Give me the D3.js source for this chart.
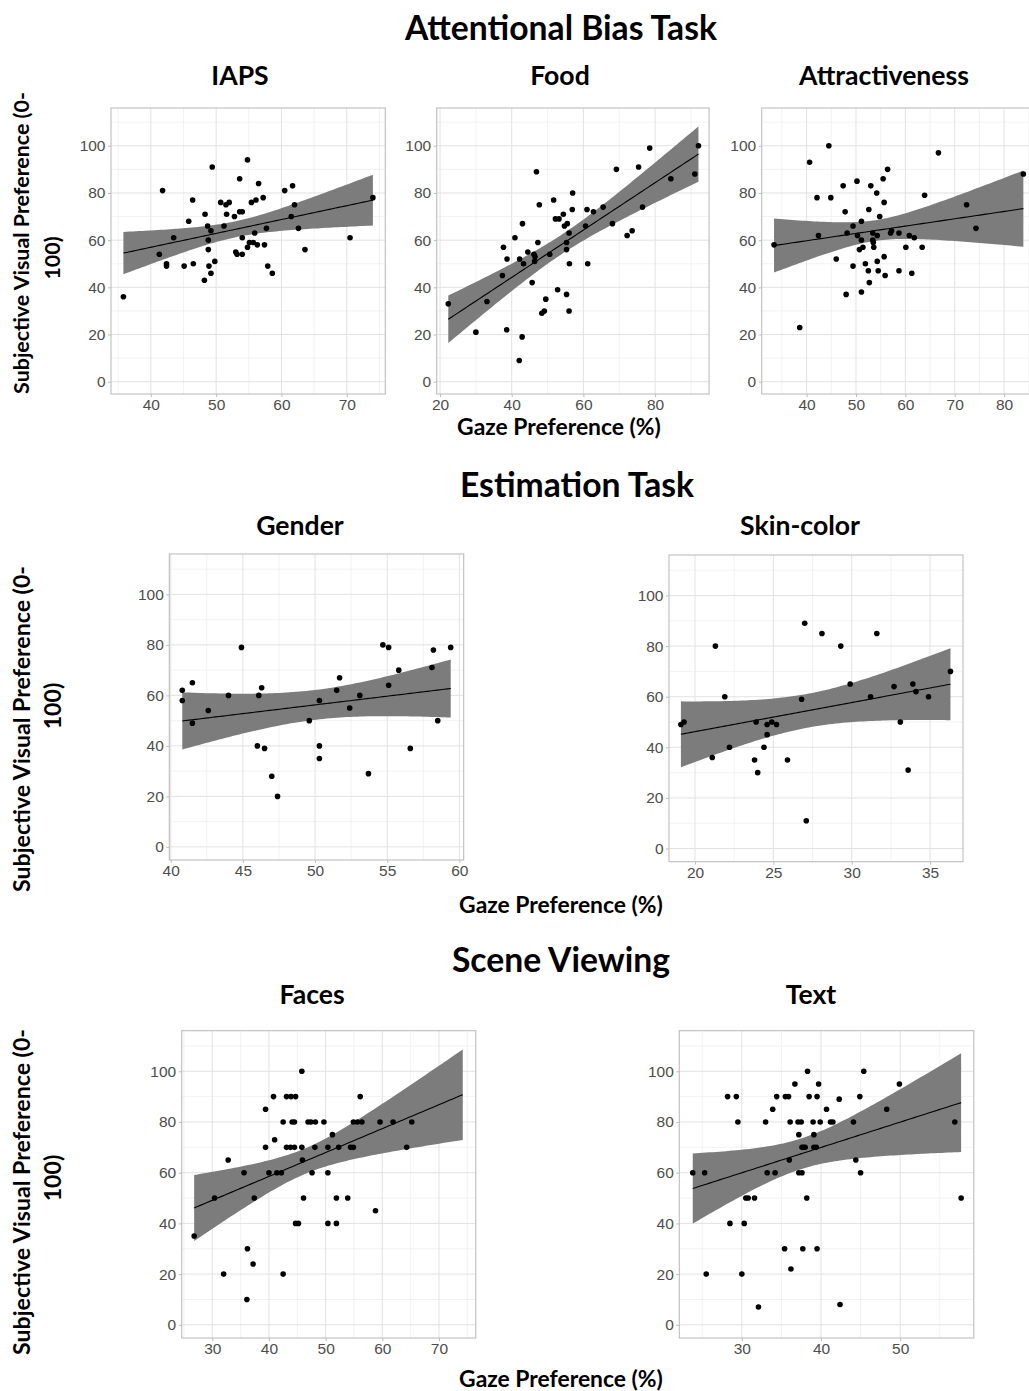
<!DOCTYPE html>
<html><head><meta charset="utf-8">
<script src="https://cdn.jsdelivr.net/npm/d3@7"></script>
<style>body{margin:0;background:#fff;} svg{display:block;}</style>
</head><body>
<svg id="c" width="1029" height="1391"></svg>
<script>
// ---------------- DATA ----------------
const iapsX = [35.8,41.8,41.3,42.4,42.4,43.5,45.1,45.8,46.4,46.5,48.2,48.3,48.7,48.8,48.8,48.9,49.2,49.2,49.4,49.8,50.7,51.2,51.5,51.6,52.0,52.8,53.0,53.2,53.6,53.6,54.0,54.0,54.0,54.8,54.8,55.1,55.4,55.7,55.9,56.1,56.3,56.5,57.2,57.4,57.7,57.9,58.6,60.5,61.5,61.7,62.0,62.6,63.6,70.5,74.0];
const iapsY = [36,81,54,50,49,61,49,68,77,50,43,71,66,60,56,49,64,46,91,51,76,66,75,71,76,70,55,54,86,72,72,54,61,94,57,59,76,59,63,77,58,84,78,58,65,49,46,81,70,83,75,65,56,61,78];

const foodX = [22.3,30.0,33.1,37.4,37.7,38.7,38.6,40.9,42.1,42.2,42.9,43.0,43.3,44.5,45.7,46.2,46.4,46.5,46.9,47.3,47.7,48.4,49.1,49.5,50.6,51.7,52.2,52.8,53.2,54.4,54.7,55.3,55.3,55.3,55.5,56.0,56.1,56.0,57.0,56.9,60.6,61.0,61.2,62.8,65.5,68.1,69.2,72.2,73.6,75.4,76.5,78.5,84.4,91.1,92.1];
const foodY = [33,21,34,45,57,52,22,61,9,52,19,67,50,55,42,54,51,53,89,59,75,29,30,35,54,77,69,39,69,71,66,37,59,56,67,63,50,30,80,73,66,73,50,72,74,67,90,62,64,91,74,99,86,88,100];

const attrX = [33.4,38.6,40.6,42.1,42.4,44.5,44.9,46.0,47.4,47.8,48.0,48.2,49.4,49.4,50.2,50.3,51.1,51.1,50.7,51.4,51.1,51.9,52.5,52.6,52.7,53.0,53.4,53.4,53.5,53.6,54.2,54.3,54.3,54.5,54.8,55.5,55.7,55.7,55.9,56.4,57.0,57.2,58.7,58.7,60.1,60.8,61.3,61.8,63.4,63.9,66.7,72.4,74.3,83.9];
const attrY = [58,23,93,78,62,100,78,52,83,72,37,63,66,49,85,62,68,60,56,57,38,50,47,73,42,83,63,60,59,57,80,62,51,47,70,86,76,53,45,90,63,64,63,47,57,62,46,61,57,79,97,75,65,88];

const genderX = [40.8,40.8,41.5,41.5,42.6,44.0,44.9,46.0,46.1,46.3,46.5,47.0,47.4,49.6,50.3,50.3,50.3,51.5,51.7,52.4,53.1,53.7,54.7,55.1,55.1,55.8,56.6,58.1,58.2,58.5,59.4];
const genderY = [62,58,65,49,54,60,79,40,60,63,39,28,20,50,58,35,40,62,67,55,60,29,80,79,64,70,39,71,78,50,79];

const skinX = [19.1,19.3,21.1,21.3,21.9,22.2,23.8,23.9,24.0,24.4,24.6,24.6,24.9,25.2,25.9,26.8,27.0,27.1,28.1,29.3,29.9,31.2,31.6,32.7,33.1,33.6,33.9,34.1,34.9,36.3];
const skinY = [49,50,36,80,60,40,35,50,30,40,45,49,50,49,35,59,89,11,85,80,65,60,85,64,50,31,65,62,60,70];

const facesX = [26.8,30.4,32.0,32.8,35.6,36.1,36.2,37.2,37.4,39.4,39.4,40.0,40.8,41.0,41.4,42.2,42.5,42.5,43.1,43.1,43.8,43.9,44.1,44.5,44.5,44.7,44.7,45.2,45.8,45.8,45.9,46.1,46.9,47.4,47.6,48.1,48.2,49.7,50.4,50.4,50.4,51.2,51.9,51.9,52.3,53.9,54.4,54.9,54.9,55.6,56.1,56.4,58.8,59.6,61.9,64.3,65.2];
const facesY = [35,50,20,65,60,10,30,24,50,85,70,60,90,73,60,60,20,80,90,70,70,90,80,80,70,90,40,40,100,70,65,50,80,80,60,70,80,80,40,70,60,75,50,40,70,50,70,70,80,80,90,80,45,80,80,70,80];
const facesFitRange = [26.8, 74.2];

const textX = [23.8,25.3,25.5,28.2,28.5,29.3,29.5,30.0,30.3,30.5,30.8,31.6,32.1,33.0,33.2,33.9,34.2,34.4,35.4,35.5,35.9,36.0,36.1,36.2,36.7,37.1,37.2,37.2,37.5,37.6,37.6,37.7,37.8,38.0,38.2,38.3,38.5,39.0,39.1,39.1,39.4,39.5,39.5,39.7,39.9,40.7,41.2,41.5,42.3,42.4,44.1,44.4,44.9,45.0,45.4,48.3,49.9,56.9,57.7];
const textY = [60,60,20,90,40,90,80,20,40,50,50,50,7,80,60,85,60,90,30,90,90,65,80,22,95,80,75,60,80,60,70,30,70,70,50,100,90,80,75,70,70,90,30,95,80,85,80,80,89,8,80,65,90,60,100,85,95,80,50];

// axis domains & ticks
const yDomain = [-5.2, 116];
const yTicks = [0,20,40,60,80,100];
const yMinor = [10,30,50,70,90,110];

const iapsXDomain = [33.9, 75.9],  iapsXTicks = [40,50,60,70],        iapsXMinor = [35,45,55,65,75];
const foodXDomain = [19.07, 95.07], foodXTicks = [20,40,60,80],       foodXMinor = [30,50,70,90];
const attrXDomain = [30.9, 86.4],  attrXTicks = [40,50,60,70,80],     attrXMinor = [35,45,55,65,75,85];
const genderXDomain = [39.9, 60.3], genderXTicks = [40,45,50,55,60],  genderXMinor = [42.5,47.5,52.5,57.5];
const skinXDomain = [18.34, 37.1], skinXTicks = [20,25,30,35],        skinXMinor = [22.5,27.5,32.5];
const facesXDomain = [24.6, 76.5], facesXTicks = [30,40,50,60,70],    facesXMinor = [25,35,45,55,65,75];
const textXDomain = [22.1, 59.3],  textXTicks = [30,40,50],           textXMinor = [25,35,45,55];

const sectionTitles = ["Attentional Bias Task", "Estimation Task", "Scene Viewing"];
const xTitle = "Gaze Preference (%)";
const yTitle1 = "Subjective Visual Preference (0-";
const yTitle2 = "100)";

// ---------------- LAYOUT ----------------
const FONT = "Lato, 'Open Sans', sans-serif";
const TICKFONT = "'Liberation Sans', Arial, sans-serif";
const panels = [
  {title:"IAPS", xs:iapsX, ys:iapsY, xd:iapsXDomain, xt:iapsXTicks, xm:iapsXMinor, box:{l:111, t:108, w:274.3, h:286}, tx:240, ty:85},
  {title:"Food", xs:foodX, ys:foodY, xd:foodXDomain, xt:foodXTicks, xm:foodXMinor, box:{l:436.7, t:108, w:272.4, h:286}, tx:560, ty:85},
  {title:"Attractiveness", xs:attrX, ys:attrY, xd:attrXDomain, xt:attrXTicks, xm:attrXMinor, box:{l:761.7, t:108, w:274, h:286}, tx:884, ty:85},
  {title:"Gender", xs:genderX, ys:genderY, xd:genderXDomain, xt:genderXTicks, xm:genderXMinor, box:{l:169.3, t:554, w:294.4, h:306}, tx:300, ty:535},
  {title:"Skin-color", xs:skinX, ys:skinY, xd:skinXDomain, xt:skinXTicks, xm:skinXMinor, box:{l:669, t:555, w:294, h:306.7}, tx:800, ty:535},
  {title:"Faces", xs:facesX, ys:facesY, xd:facesXDomain, xt:facesXTicks, xm:facesXMinor, box:{l:181.7, t:1030.7, w:294.1, h:307.3}, tx:312, ty:1004, fit:facesFitRange},
  {title:"Text", xs:textX, ys:textY, xd:textXDomain, xt:textXTicks, xm:textXMinor, box:{l:679.3, t:1030.7, w:294.5, h:307.3}, tx:811, ty:1004}
];
const sectionPos = [{x:561, y:40}, {x:577, y:497}, {x:561, y:972}];
const xTitlePos = [{x:559, y:435}, {x:561, y:913}, {x:561, y:1387}];
const yTitlePos = [{c1:243, c2:258, s:1, x1:29, x2:60}, {c1:729, c2:706, s:1.08, x1:30, x2:61}, {c1:1192, c2:1178, s:1.08, x1:30, x2:61}];

const svg = d3.select('#c');

function fitSize(text, base, target, weight) {
  const t = svg.append('text').attr('font-family', FONT).attr('font-weight', weight).attr('font-size', base).text(text);
  const w = t.node().getComputedTextLength(); t.remove();
  return base * target / w;
}
const secSize = fitSize(sectionTitles[0], 30, 312, 'bold');
const panelSize = fitSize("Attractiveness", 20, 170, 'bold');
const xTitleSize = fitSize(xTitle, 20, 204, 'bold');
const yTitleSize = fitSize(yTitle1, 20, 302, 'bold');

// t quantile approx (0.975)
function tq(df){ const z=1.959964; const g1=(z**3+z)/4, g2=(5*z**5+16*z**3+3*z)/96, g3=(3*z**7+19*z**5+17*z**3-15*z)/384; return z+g1/df+g2/df**2+g3/df**3; }

function lmFit(xs, ys){
  const n = xs.length, mx = d3.mean(xs), my = d3.mean(ys);
  let sxx=0, sxy=0; xs.forEach((x,i)=>{sxx+=(x-mx)**2; sxy+=(x-mx)*(ys[i]-my);});
  const b = sxy/sxx, a = my - b*mx;
  let sse=0; xs.forEach((x,i)=>{sse+=(ys[i]-a-b*x)**2;});
  const s = Math.sqrt(sse/(n-2)), t = tq(n-2);
  return x => { const f=a+b*x, se=s*Math.sqrt(1/n+(x-mx)**2/sxx); return {x, f, lo:f-t*se, hi:f+t*se}; };
}

panels.forEach(p => {
  const {l,t,w,h} = p.box;
  const x = d3.scaleLinear().domain(p.xd).range([l, l+w]);
  const y = d3.scaleLinear().domain(yDomain).range([t+h, t]);
  const g = svg.append('g');
  const clipId = 'clip'+p.title.replace(/\W/g,'');
  svg.append('clipPath').attr('id', clipId).append('rect').attr('x',l).attr('y',t).attr('width',w).attr('height',h);
  const pg = g.append('g').attr('clip-path', `url(#${clipId})`);
  // minor grid
  pg.selectAll('.vm').data(p.xm).join('line').attr('x1',d=>x(d)).attr('x2',d=>x(d)).attr('y1',t).attr('y2',t+h).attr('stroke','#efefef').attr('stroke-width',0.8);
  pg.selectAll('.hm').data(yMinor).join('line').attr('y1',d=>y(d)).attr('y2',d=>y(d)).attr('x1',l).attr('x2',l+w).attr('stroke','#efefef').attr('stroke-width',0.8);
  // major grid
  pg.selectAll('.vM').data(p.xt).join('line').attr('x1',d=>x(d)).attr('x2',d=>x(d)).attr('y1',t).attr('y2',t+h).attr('stroke','#e2e2e2').attr('stroke-width',1);
  pg.selectAll('.hM').data(yTicks).join('line').attr('y1',d=>y(d)).attr('y2',d=>y(d)).attr('x1',l).attr('x2',l+w).attr('stroke','#e2e2e2').attr('stroke-width',1);
  // fit
  const fit = lmFit(p.xs, p.ys);
  const ext = p.fit || d3.extent(p.xs);
  const fx = d3.range(81).map(i => ext[0] + (ext[1]-ext[0])*i/80);
  const fd = fx.map(fit);
  pg.append('path').datum(fd).attr('d', d3.area().x(d=>x(d.x)).y0(d=>y(d.lo)).y1(d=>y(d.hi))).attr('fill','#7c7c7c');
  pg.append('path').datum(fd).attr('d', d3.line().x(d=>x(d.x)).y(d=>y(d.f))).attr('fill','none').attr('stroke','#000').attr('stroke-width',1.1);
  // points
  pg.selectAll('circle').data(p.xs.map((v,i)=>[v,p.ys[i]])).join('circle')
    .attr('cx',d=>x(d[0])).attr('cy',d=>y(d[1])).attr('r',2.8).attr('fill','#000');
  // border
  g.append('rect').attr('x',l).attr('y',t).attr('width',w).attr('height',h).attr('fill','none').attr('stroke','#bdbdbd').attr('stroke-width',1.1);
  // axes
  const ax = g.append('g').attr('transform',`translate(0,${t+h})`).call(d3.axisBottom(x).tickValues(p.xt).tickSize(3).tickPadding(2).tickFormat(d3.format('d')));
  const ay = g.append('g').attr('transform',`translate(${l},0)`).call(d3.axisLeft(y).tickValues(yTicks).tickSize(3).tickPadding(2.5).tickFormat(d3.format('d')));
  [ax, ay].forEach(a => {
    a.select('.domain').remove();
    a.selectAll('line').attr('stroke','#bdbdbd');
    a.selectAll('text').attr('font-family',TICKFONT).attr('font-size',15.5).attr('fill','#4d4d4d');
  });
  // panel title
  svg.append('text').attr('x',p.tx).attr('y',p.ty).attr('text-anchor','middle').attr('font-family',FONT).attr('font-weight','bold').attr('font-size',panelSize).attr('fill','#000').text(p.title);
});

sectionTitles.forEach((s,i) => {
  const yp = yTitlePos[i];
  svg.append('text').attr('x',sectionPos[i].x).attr('y',sectionPos[i].y).attr('text-anchor','middle').attr('font-family',FONT).attr('font-weight','bold').attr('font-size',secSize).attr('fill','#000').text(s);
  svg.append('text').attr('x',xTitlePos[i].x).attr('y',xTitlePos[i].y).attr('text-anchor','middle').attr('font-family',FONT).attr('font-weight','bold').attr('font-size',xTitleSize).attr('fill','#000').text(xTitle);
  svg.append('text').attr('transform',`translate(${yp.x1},${yp.c1}) rotate(-90)`).attr('text-anchor','middle').attr('font-family',FONT).attr('font-weight','bold').attr('font-size',yTitleSize*yp.s).attr('fill','#000').text(yTitle1);
  svg.append('text').attr('transform',`translate(${yp.x2},${yp.c2}) rotate(-90)`).attr('text-anchor','middle').attr('font-family',FONT).attr('font-weight','bold').attr('font-size',yTitleSize*yp.s).attr('fill','#000').text(yTitle2);
});
</script>
</body></html>
